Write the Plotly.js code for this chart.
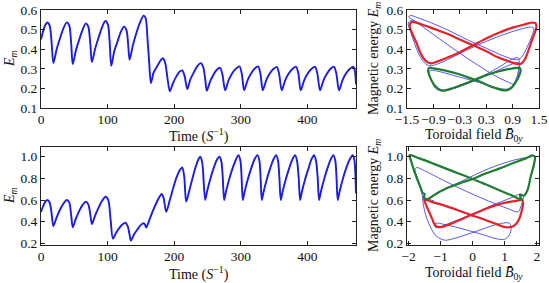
<!DOCTYPE html>
<html>
<head>
<meta charset="utf-8">
<script src="https://cdn.plot.ly/plotly-3.0.1.min.js"></script>
<style>html,body{margin:0;padding:0;background:#fff;}#chart{width:549px;height:283px;}</style>
</head>
<body>
<div id="chart"></div>
<script>
// ---- Time series of magnetic energy, run A (upper panel): [time, E_m]
const runATime = [
  [0,0.45],[3,0.49],[6,0.52],[9.5,0.536],[13,0.52],[16,0.43],[18.6,0.329],
  [23.5,0.40],[28.5,0.455],[33.5,0.505],[38.7,0.537],[42.5,0.52],[45.3,0.43],[47.7,0.324],
  [52.5,0.395],[57.5,0.45],[62.5,0.50],[67.3,0.532],[71,0.515],[74,0.43],[76.4,0.334],
  [81.5,0.405],[86.5,0.46],[91.5,0.51],[96.5,0.544],[100.5,0.525],[103.2,0.43],[105.5,0.315],
  [110,0.39],[115,0.44],[120,0.49],[125,0.515],[128.5,0.495],[131,0.42],[133,0.346],
  [138,0.42],[143,0.48],[148,0.53],[154,0.571],[157,0.56],[160,0.45],[162.5,0.33],[165,0.227],
  [169,0.28],[174,0.31],[179,0.34],[183,0.354],[186.5,0.33],[190,0.25],[193.5,0.185],
  [198,0.225],[203,0.26],[208,0.285],[212,0.292],[215.5,0.265],[219.6,0.197],
  [224,0.244],[230,0.285],[235,0.315],[240,0.329],[243.5,0.31],[246.5,0.25],[249,0.188],
  [254,0.236],[259,0.27],[264,0.295],[269,0.305],[272.5,0.27],[276.5,0.19],
  [281.5,0.24],[286.5,0.273],[292,0.298],[298,0.312],[301.5,0.275],[305,0.19],
  [310,0.24],[315,0.273],[320,0.298],[326,0.312],[329.5,0.275],[333,0.19],
  [338,0.24],[343,0.273],[348.5,0.298],[354,0.31],[357.5,0.275],[361.5,0.19],
  [366.5,0.24],[371.5,0.273],[377,0.298],[383,0.31],[386.5,0.275],[390,0.19],
  [395,0.24],[400,0.273],[405.5,0.298],[411.5,0.31],[415,0.275],[419,0.19],
  [424,0.24],[429,0.273],[434,0.298],[440,0.31],[443.5,0.275],[447.5,0.19],
  [452.5,0.24],[457.5,0.273],[463,0.298],[469,0.31],[471.5,0.285],[473,0.22]
];

// ---- Time series of magnetic energy, run B (lower panel): [time, E_m]
const runBTime = [
  [0,0.49],[3,0.54],[6,0.58],[9.5,0.60],[13,0.575],[16,0.47],[18.6,0.36],
  [23.5,0.44],[28.5,0.51],[33.5,0.565],[38.7,0.60],[42.5,0.575],[45.3,0.46],[47.7,0.348],
  [52.5,0.43],[57.5,0.50],[62.5,0.555],[67.3,0.585],[71,0.56],[74,0.47],[76.4,0.378],
  [81.5,0.46],[86.5,0.53],[91.5,0.59],[97,0.63],[101,0.60],[104.5,0.42],[108,0.243],
  [113,0.30],[118,0.345],[122.5,0.375],[126.6,0.39],[130,0.36],[133,0.28],[135,0.225],
  [140,0.285],[145,0.33],[150,0.37],[154,0.385],[156.3,0.37],[158,0.345],
  [163,0.42],[168,0.50],[173,0.57],[178,0.63],[181,0.655],[184,0.62],[188,0.49],
  [193,0.59],[198,0.70],[203,0.80],[208,0.87],[212,0.90],[215,0.82],[218,0.585],
  [222,0.67],[227,0.79],[232,0.90],[236,0.97],[239,1.0],[242,0.95],[246.5,0.60],
  [249,0.67],[254,0.79],[259,0.89],[264,0.97],[268,1.0],[271,0.95],[273,0.80],[275,0.60],
  [277.5,0.67],[282.5,0.79],[287.5,0.89],[292.5,0.97],[296.5,1.015],[299.5,0.96],[301.3,0.80],[303,0.60],
  [305.5,0.67],[310.5,0.79],[315.5,0.89],[320.5,0.975],[325,1.015],[328,0.96],[329.8,0.80],[331.5,0.60],
  [334,0.67],[339,0.79],[344,0.89],[349,0.975],[353,1.015],[356,0.96],[358,0.80],[360,0.60],
  [362.5,0.67],[367.5,0.79],[372.5,0.89],[377.5,0.975],[381.5,1.015],[384.5,0.96],[387,0.80],[389,0.60],
  [391.5,0.67],[396.5,0.79],[401.5,0.89],[406,0.975],[410,1.015],[413,0.96],[415.5,0.80],[417.5,0.60],
  [420,0.67],[425,0.79],[430,0.89],[435,0.975],[439,1.015],[442,0.96],[443.8,0.80],[445.5,0.60],
  [448,0.67],[453,0.79],[458,0.89],[463.5,0.975],[468,1.015],[470.5,0.97],[473,0.66]
];

// ---- Phase portraits: [toroidal field B0y, E_m]
// run A, early cycle (red)
const runAEarlyLoop = [
  [-1.40,0.538],[-1.44,0.52],[-1.38,0.48],[-1.30,0.44],[-1.22,0.395],[-1.13,0.355],[-1.03,0.333],
  [-0.95,0.328],[-0.80,0.338],[-0.55,0.36],[-0.30,0.385],[0.0,0.42],[0.30,0.455],[0.60,0.485],
  [0.90,0.51],[1.15,0.525],[1.32,0.535],[1.42,0.533],[1.44,0.51],[1.38,0.47],[1.30,0.42],
  [1.23,0.375],[1.17,0.345],[1.10,0.327],[1.00,0.325],[0.85,0.335],[0.55,0.36],[0.30,0.39],
  [0.0,0.42],[-0.30,0.45],[-0.60,0.48],[-0.90,0.505],[-1.15,0.525],[-1.40,0.538]
];
// run A, late cycle (green)
const runALateLoop = [
  [-1.0,0.305],[-1.02,0.29],[-0.99,0.265],[-0.93,0.235],[-0.85,0.21],[-0.75,0.193],[-0.65,0.19],
  [-0.45,0.202],[-0.2,0.222],[0.05,0.245],[0.3,0.267],[0.55,0.285],[0.8,0.298],[1.0,0.305],
  [1.07,0.303],[1.08,0.285],[1.03,0.255],[0.95,0.225],[0.86,0.2],[0.76,0.19],[0.6,0.195],
  [0.4,0.21],[0.15,0.235],[-0.1,0.255],[-0.35,0.275],[-0.65,0.292],[-0.9,0.302],[-1.0,0.305]
];
// run A, transition between the two cycles (blue)
const runATransient = [
  [-1.15,0.527],[-1.40,0.546],[-1.47,0.535],[-1.42,0.49],[-1.33,0.43],[-1.22,0.37],[-1.10,0.33],
  [-0.98,0.316],[-0.80,0.325],[-0.50,0.355],[-0.10,0.40],[0.30,0.44],[0.70,0.475],[1.05,0.50],
  [1.30,0.513],[1.38,0.508],[1.34,0.47],[1.25,0.42],[1.15,0.375],[1.06,0.35],[0.95,0.347],
  [0.70,0.365],[0.30,0.405],[-0.10,0.445],[-0.50,0.49],[-0.90,0.53],[-1.25,0.56],[-1.42,0.572],
  [-1.46,0.565],[-1.30,0.54],[-0.90,0.475],[-0.40,0.395],[0.10,0.32],[0.50,0.265],[0.80,0.232],
  [0.93,0.222],[1.00,0.24],[1.03,0.29],[1.05,0.335],[1.03,0.356],[0.90,0.35],[0.60,0.31],
  [0.20,0.26],[-0.20,0.22],[-0.55,0.192],[-0.72,0.186],[-0.85,0.2],[-0.95,0.24],[-1.00,0.275],
  [-0.98,0.292],[-0.85,0.29],[-0.50,0.27],[-0.10,0.245],[0.30,0.22],[0.60,0.2],[0.78,0.197],
  [0.90,0.215],[1.00,0.26],[1.06,0.31],[1.05,0.33],[0.90,0.325],[0.50,0.285],[0.10,0.245],
  [-0.30,0.21],[-0.60,0.19]
];
// run B, early cycle (red)
const runBEarlyLoop = [
  [-1.50,0.60],[-1.45,0.55],[-1.36,0.49],[-1.27,0.43],[-1.19,0.375],[-1.09,0.35],[-0.95,0.352],
  [-0.60,0.39],[-0.30,0.43],[-0.05,0.462],[0.30,0.505],[0.70,0.55],[1.10,0.58],[1.40,0.595],
  [1.55,0.60],[1.57,0.56],[1.53,0.50],[1.46,0.43],[1.36,0.38],[1.22,0.352],[1.04,0.348],
  [0.80,0.37],[0.40,0.415],[-0.05,0.462],[-0.50,0.51],[-0.90,0.55],[-1.25,0.58],[-1.50,0.60]
];
// run B, late cycle (green)
const runBLateLoop = [
  [-1.97,1.015],[-1.92,0.96],[-1.84,0.88],[-1.72,0.785],[-1.62,0.71],[-1.56,0.665],[-1.50,0.655],
  [-1.52,0.625],[-1.45,0.606],[-1.10,0.665],[-0.72,0.72],[-0.35,0.76],[0.0,0.795],[0.40,0.845],
  [0.83,0.89],[1.25,0.94],[1.66,0.985],[1.86,1.012],[1.94,1.0],[1.92,0.94],[1.81,0.815],
  [1.71,0.69],[1.60,0.64],[1.48,0.65],[1.50,0.62],[1.55,0.60],[1.20,0.645],[0.83,0.69],
  [0.40,0.745],[0.0,0.795],[-0.40,0.84],[-0.83,0.89],[-1.30,0.945],[-1.66,0.985],[-1.97,1.015]
];
// run B, transition between the two cycles (blue)
const runBTransient = [
  [-1.20,0.59],[-1.45,0.615],[-1.55,0.63],[-1.55,0.58],[-1.50,0.50],[-1.42,0.42],[-1.30,0.34],
  [-1.15,0.27],[-0.98,0.238],[-0.85,0.228],[-0.70,0.235],[-0.30,0.27],[0.20,0.32],[0.70,0.37],
  [1.05,0.39],[1.15,0.385],[1.20,0.34],[1.15,0.28],[1.02,0.24],[0.88,0.235],[0.70,0.245],
  [0.20,0.29],[-0.40,0.34],[-0.90,0.375],[-1.15,0.385],[-1.20,0.365],[-1.15,0.345],[-0.60,0.40],
  [0.00,0.47],[0.60,0.55],[1.20,0.62],[1.50,0.655],[1.58,0.64],[1.55,0.58],[1.48,0.52],
  [1.42,0.49],[1.10,0.52],[0.50,0.59],[-0.20,0.68],[-0.90,0.78],[-1.50,0.87],[-1.75,0.90],
  [-1.80,0.88],[-1.72,0.80],[-1.62,0.70],[-1.55,0.62],[-1.50,0.59],[-1.00,0.68],[-0.30,0.78],
  [0.50,0.89],[1.30,0.97],[1.85,1.0]
];

// ---- tick labels
const timeTicks = [0, 100, 200, 300, 400];
const energyTicksA = [0.1, 0.2, 0.3, 0.4, 0.5, 0.6];
const energyTicksB = [0.2, 0.4, 0.6, 0.8, 1.0];
const fieldTicksA = [-1.5, -0.9, -0.3, 0.3, 0.9, 1.5];
const fieldTicksB = [-2, -1, 0, 1, 2];

const BLUE = '#1c1ce6', THIN_BLUE = '#4646ec', RED = '#e3222b', GREEN = '#1f7d31';
const SERIF = 'Liberation Serif, Times New Roman, serif';
const col = (pts, i) => pts.map(p => p[i]);

function line(pts, xa, ya, color, width, smooth) {
  return {
    x: col(pts, 0), y: col(pts, 1), xaxis: xa, yaxis: ya, type: 'scatter', mode: 'lines',
    line: {color: color, width: width, shape: 'spline', smoothing: smooth},
    hoverinfo: 'skip'
  };
}

const data = [
  line(runATime, 'x', 'y', BLUE, 1.9, 0.8),
  line(runBTime, 'x3', 'y3', BLUE, 1.9, 0.8),
  line(runATransient, 'x2', 'y2', THIN_BLUE, 0.9, 1),
  line(runAEarlyLoop, 'x2', 'y2', RED, 2.2, 1),
  line(runALateLoop, 'x2', 'y2', GREEN, 2.2, 1),
  line(runBTransient, 'x4', 'y4', THIN_BLUE, 0.9, 1),
  line(runBEarlyLoop, 'x4', 'y4', RED, 2.2, 1),
  line(runBLateLoop, 'x4', 'y4', GREEN, 2.2, 1)
];

const W = 549, H = 283;
const fx = px => px / W, fy = py => 1 - py / H;

function axis(extra) {
  return Object.assign({
    showline: true, linecolor: '#222', linewidth: 1, mirror: 'ticks',
    ticks: 'inside', ticklen: 4, tickcolor: '#222', tickwidth: 1,
    showgrid: false, zeroline: false, tickangle: 0, fixedrange: true,
    tickfont: {family: SERIF, size: 13.5, color: '#111'}
  }, extra);
}

const topRow = [fy(108), fy(10)], botRow = [fy(245), fy(147)];
const leftCol = [fx(41), fx(356)], rightCol = [fx(407), fx(539)];

const ann = (text, px, py, angle) => ({
  text: text, x: fx(px), y: fy(py), xref: 'paper', yref: 'paper',
  xanchor: 'center', yanchor: 'middle', showarrow: false, textangle: angle || 0,
  font: {family: SERIF, size: 14, color: '#111'}
});

const timeTitle = 'Time (<i>S</i><sup>−1</sup>)';
const emTitle = '<i>E<sub>m</sub></i>';
const magTitle = 'Magnetic energy <i>E<sub>m</sub></i>';
const fieldTitle = 'Toroidal field <i>B̄</i><sub>0<i>y</i></sub>';

const layout = {
  width: W, height: H, margin: {l: 0, r: 0, t: 0, b: 0},
  paper_bgcolor: '#fff', plot_bgcolor: '#fff', showlegend: false,
  font: {family: SERIF, size: 14, color: '#111'},
  xaxis: axis({domain: leftCol, anchor: 'y', range: [0, 473], tickvals: timeTicks, ticklabelstandoff: -1}),
  yaxis: axis({domain: topRow, anchor: 'x', range: [0.1, 0.6], tickvals: energyTicksA, tickformat: '.1f'}),
  xaxis2: axis({domain: rightCol, anchor: 'y2', range: [-1.5, 1.5], tickvals: fieldTicksA, tickformat: '.1f', ticklabelstandoff: -1}),
  yaxis2: axis({domain: topRow, anchor: 'x2', range: [0.1, 0.6], tickvals: energyTicksA, tickformat: '.1f'}),
  xaxis3: axis({domain: leftCol, anchor: 'y3', range: [0, 473], tickvals: timeTicks, ticklabelstandoff: -1}),
  yaxis3: axis({domain: botRow, anchor: 'x3', range: [0.184, 1.09], tickvals: energyTicksB, tickformat: '.1f'}),
  xaxis4: axis({domain: rightCol, anchor: 'y4', range: [-2.05, 2.07], tickvals: fieldTicksB, ticklabelstandoff: -1}),
  yaxis4: axis({domain: botRow, anchor: 'x4', range: [0.184, 1.09], tickvals: energyTicksB, tickformat: '.1f'}),
  annotations: [
    ann(emTitle, 10, 59, -90),
    ann(emTitle, 10, 196, -90),
    ann(timeTitle, 199, 135),
    ann(timeTitle, 199, 273),
    ann(magTitle, 374, 59, -90),
    ann(magTitle, 374, 196, -90),
    ann(fieldTitle, 474, 135),
    ann(fieldTitle, 474, 273)
  ]
};

Plotly.newPlot('chart', data, layout, {staticPlot: true, displayModeBar: false});
</script>
</body>
</html>
